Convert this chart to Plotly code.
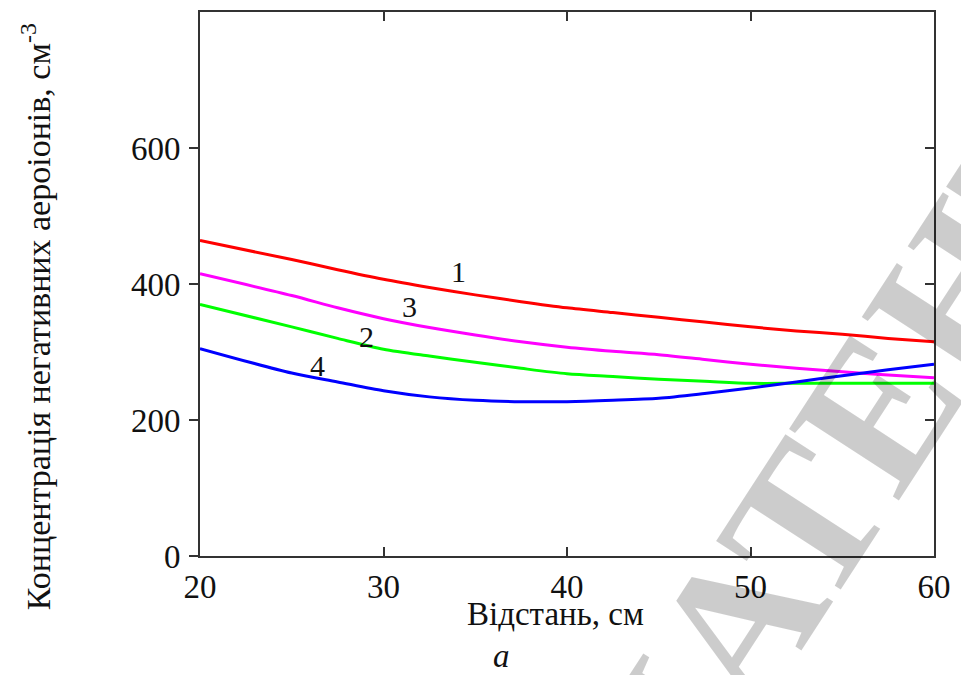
import plotly.graph_objects as go

# Distance from the source, cm
distance = [20, 25, 27.5, 30, 32.5, 35, 37.5, 40, 42.5, 45, 47.5, 50, 52.5, 55, 57.5, 60]

# Negative air-ion concentration, cm^-3, for the four regimes
conc_1 = [464, 436, 421, 407, 395, 384, 374, 365, 358, 351, 344, 337, 331, 326, 320, 315]
conc_2 = [370, 337, 320, 304, 294, 285, 276, 268, 264, 260, 257, 254, 254, 254, 254, 254]
conc_3 = [415, 383, 365, 349, 336, 325, 315, 307, 301, 296, 289, 282, 276, 271, 266, 262]
conc_4 = [305, 269, 256, 243, 234, 229, 227, 227, 229, 232, 239, 247, 256, 265, 274, 282]

curve_names = ["1", "2", "3", "4"]
curve_colors = ["#ff0000", "#00ff00", "#ff00ff", "#0000ff"]
curve_values = [conc_1, conc_2, conc_3, conc_4]

# Position of the number tag next to each curve (data units)
label_x = [34.1, 29.1, 31.4, 26.4]
label_y = [419, 323, 367, 280]

x_ticks = [20, 30, 40, 50, 60]
y_ticks = [0, 200, 400, 600]

FONT = "Liberation Serif, Times New Roman, serif"
AXIS_COLOR = "#333333"

fig = go.Figure()
for name, color, vals in zip(curve_names, curve_colors, curve_values):
    fig.add_trace(go.Scatter(
        x=distance, y=vals, mode="lines", name=name,
        line=dict(color=color, width=3, shape="spline", smoothing=0.8),
        showlegend=False, hoverinfo="x+y",
    ))

# an empty trace so the right-hand axis (inward ticks) is drawn
fig.add_trace(go.Scatter(x=[20], y=[0], yaxis="y2", mode="none",
                         showlegend=False, hoverinfo="skip"))

for name, lx, ly in zip(curve_names, label_x, label_y):
    fig.add_annotation(x=lx, y=ly, text=name, showarrow=False,
                       font=dict(family=FONT, size=30, color="#111111"))

fig.add_annotation(
    xref="paper", yref="paper", x=-0.224, y=0.44, xanchor="center", yanchor="middle",
    text="Концентрація негативних аероіонів, см<sup>-3</sup>", textangle=-90,
    showarrow=False, font=dict(family=FONT, size=34, color="#111111"),
)
fig.add_annotation(
    xref="paper", yref="paper", x=0.484, y=-0.107, xanchor="center", yanchor="middle",
    text="Відстань, см", showarrow=False,
    font=dict(family=FONT, size=33, color="#111111"),
)
fig.add_annotation(
    xref="paper", yref="paper", x=0.411, y=-0.183, xanchor="center", yanchor="middle",
    text="<i>a</i>", showarrow=False,
    font=dict(family=FONT, size=33, color="#111111"),
)

# faint diagonal watermark
fig.add_annotation(
    xref="paper", yref="paper", x=0.875, y=0.17, xanchor="center", yanchor="middle",
    text="<b>ПАТЕНТ</b>", textangle=-57, showarrow=False,
    font=dict(family=FONT, size=200, color="rgba(0,0,0,0.2)"),
)

fig.update_layout(
    width=961, height=675,
    margin=dict(l=200, r=23, t=10, b=119),
    paper_bgcolor="white", plot_bgcolor="white",
    font=dict(family=FONT, size=33, color="#111111"),
    xaxis=dict(
        range=[20, 60], tickvals=x_ticks, ticks="inside", ticklen=9, tickwidth=2,
        tickcolor=AXIS_COLOR, showline=True, linecolor=AXIS_COLOR, linewidth=2,
        mirror="ticks", showgrid=False, zeroline=False,
        tickfont=dict(family=FONT, size=33), fixedrange=True,
    ),
    yaxis=dict(
        range=[0, 800], tickvals=y_ticks, ticks="outside", ticklen=9, tickwidth=2,
        tickcolor=AXIS_COLOR, showline=True, linecolor=AXIS_COLOR, linewidth=2,
        showgrid=False, zeroline=False, ticklabelstandoff=2,
        tickfont=dict(family=FONT, size=33), fixedrange=True,
    ),
    yaxis2=dict(
        range=[0, 800], tickvals=y_ticks, ticks="inside", ticklen=9, tickwidth=2,
        tickcolor=AXIS_COLOR, showline=True, linecolor=AXIS_COLOR, linewidth=2,
        overlaying="y", side="right", showticklabels=False,
        showgrid=False, zeroline=False, fixedrange=True,
    ),
)

fig.write_html("out.html")
